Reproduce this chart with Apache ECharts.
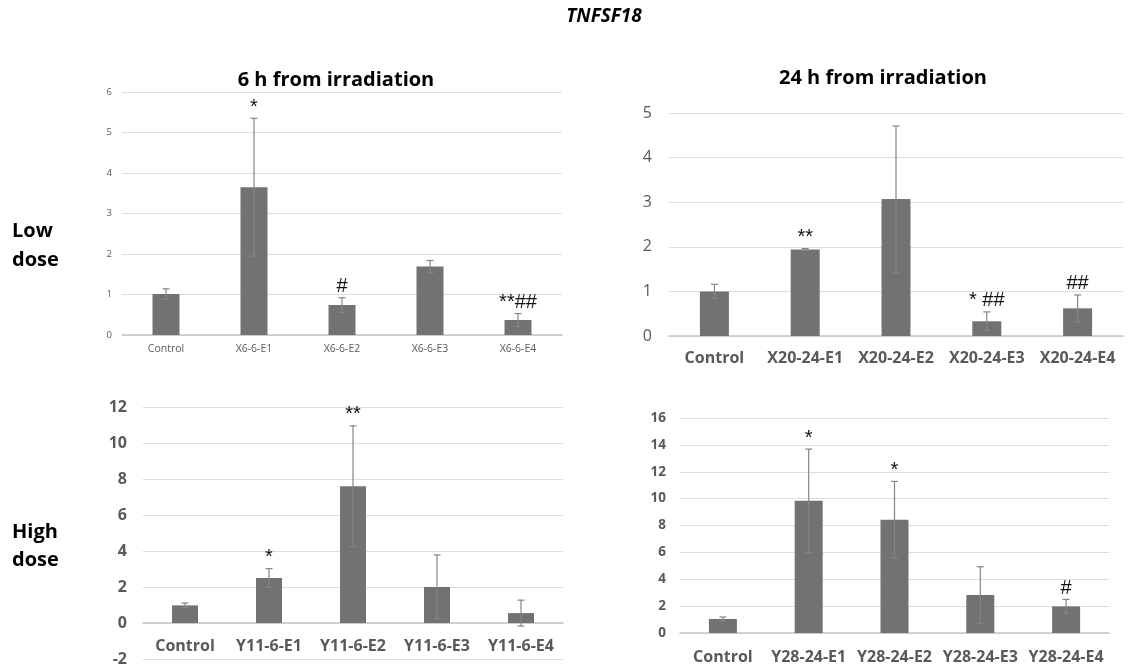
<!DOCTYPE html>
<html>
<head>
<meta charset="utf-8">
<script src="https://cdn.jsdelivr.net/npm/echarts@6/dist/echarts.min.js"></script>
<style>
html,body{margin:0;padding:0;background:#fff;}
#chart{width:1132px;height:668px;}
</style>
</head>
<body>
<div id="chart"></div>
<script>
// ---- Data ----
const cats1 = ['Control', 'X6-6-E1', 'X6-6-E2', 'X6-6-E3', 'X6-6-E4'];
const vals1 = [1.01, 3.65, 0.74, 1.69, 0.37];
const sd1   = [0.13, 1.70, 0.18, 0.15, 0.16];
const ann1  = ['', '*', '#', '', '**##'];

const cats2 = ['Control', 'X20-24-E1', 'X20-24-E2', 'X20-24-E3', 'X20-24-E4'];
const vals2 = [1.00, 1.94, 3.07, 0.33, 0.62];
const sd2   = [0.16, 0.02, 1.64, 0.21, 0.30];
const ann2  = ['', '**', '', '* ##', '##'];

const cats3 = ['Control', 'Y11-6-E1', 'Y11-6-E2', 'Y11-6-E3', 'Y11-6-E4'];
const vals3 = [0.98, 2.50, 7.60, 2.00, 0.55];
const sd3   = [0.13, 0.52, 3.35, 1.78, 0.72];
const ann3  = ['', '*', '**', '', ''];

const cats4 = ['Control', 'Y28-24-E1', 'Y28-24-E2', 'Y28-24-E3', 'Y28-24-E4'];
const vals4 = [1.04, 9.84, 8.43, 2.83, 1.98];
const sd4   = [0.15, 3.85, 2.85, 2.10, 0.52];
const ann4  = ['', '*', '*', '', '#'];

const ticks1 = {min: 0, max: 6, interval: 1};
const ticks2 = {min: 0, max: 5, interval: 1};
const ticks3 = {min: -2, max: 12, interval: 2};
const ticks4 = {min: 0, max: 16, interval: 2};

const mainTitle = 'TNFSF18';
const colTitles = ['6 h from irradiation', '24 h from irradiation'];
const rowTitles = ['Low\ndose', 'High\ndose'];

// ---- Styling ----
const FONT = '"Open Sans", "DejaVu Sans", sans-serif';
const BAR = '#727272';
const ERR = '#858585';
const GRIDC = '#dcdcdc';
const LBL = '#595959';

const panels = [
  {cats: cats1, vals: vals1, sd: sd1, ann: ann1, ticks: ticks1,
   grid: {left: 122, top: 92, width: 440, height: 243}, barWidth: 27,
   yFont: {fontSize: 9.5, fontWeight: 'normal'}, yMargin: 10,
   xFont: {fontSize: 10.5, fontWeight: 'normal'}, xMargin: 9, annSize: 20},
  {cats: cats2, vals: vals2, sd: sd2, ann: ann2, ticks: ticks2,
   grid: {left: 669, top: 113, width: 454, height: 223}, barWidth: 29,
   yFont: {fontSize: 16, fontWeight: 'normal'}, yMargin: 17,
   xFont: {fontSize: 16, fontWeight: 'bold'}, xMargin: 14, annSize: 20},
  {cats: cats3, vals: vals3, sd: sd3, ann: ann3, ticks: ticks3,
   grid: {left: 143, top: 407, width: 420, height: 252}, barWidth: 26,
   yFont: {fontSize: 16, fontWeight: 'bold'}, yMargin: 16,
   xFont: {fontSize: 16, fontWeight: 'bold'}, xMargin: 15, annSize: 20},
  {cats: cats4, vals: vals4, sd: sd4, ann: ann4, ticks: ticks4,
   grid: {left: 680, top: 418, width: 429, height: 215}, barWidth: 28,
   yFont: {fontSize: 13.5, fontWeight: 'bold'}, yMargin: 14,
   xFont: {fontSize: 16, fontWeight: 'bold'}, xMargin: 16, annSize: 20}
];

const grids = [], xAxes = [], yAxes = [], series = [];
panels.forEach((p, k) => {
  grids.push(Object.assign({containLabel: false, outerBoundsMode: 'none'}, p.grid));
  // place the category axis on the zero line (shift up from the bottom when min < 0)
  const zeroOffset = p.ticks.min < 0
    ? -p.grid.height * (-p.ticks.min) / (p.ticks.max - p.ticks.min) : 0;
  xAxes.push({
    type: 'category', gridIndex: k, data: p.cats, position: 'bottom', offset: zeroOffset,
    axisLine: {show: true, onZero: false, lineStyle: {color: '#c6c6c6', width: 1.5}},
    axisTick: {show: false},
    axisLabel: Object.assign({color: LBL, fontFamily: FONT, margin: p.xMargin, interval: 0}, p.xFont),
    splitLine: {show: false}
  });
  yAxes.push({
    type: 'value', gridIndex: k,
    min: p.ticks.min, max: p.ticks.max, interval: p.ticks.interval,
    axisLine: {show: false}, axisTick: {show: false},
    axisLabel: Object.assign({color: LBL, fontFamily: FONT, margin: p.yMargin}, p.yFont),
    splitLine: {show: true, lineStyle: {color: GRIDC, width: 1}}
  });
  series.push({
    type: 'bar', xAxisIndex: k, yAxisIndex: k, data: p.vals,
    barWidth: p.barWidth, itemStyle: {color: BAR}, z: 2, silent: true
  });
  const errData = p.vals.map((v, i) => [i, v, p.sd[i]]);
  series.push({
    type: 'custom', xAxisIndex: k, yAxisIndex: k, data: errData, z: 5, silent: true,
    encode: {x: 0, y: 1},
    renderItem: function (params, api) {
      const i = api.value(0), v = api.value(1), s = api.value(2);
      const top = api.coord([i, v + s]);
      const bot = api.coord([i, v - s]);
      const x = top[0], c = 3.5;
      const st = {stroke: ERR, lineWidth: 1.2};
      const children = [
        {type: 'line', shape: {x1: x, y1: top[1], x2: x, y2: bot[1]}, style: st},
        {type: 'line', shape: {x1: x - c, y1: top[1], x2: x + c, y2: top[1]}, style: st},
        {type: 'line', shape: {x1: x - c, y1: bot[1], x2: x + c, y2: bot[1]}, style: st}
      ];
      const label = p.ann[params.dataIndex];
      if (label) {
        children.push({
          type: 'text', z2: 10,
          style: {x: x, y: top[1] - 1, text: label, fill: '#111',
            font: p.annSize + 'px "Liberation Sans", Arial, sans-serif',
            textAlign: 'center', textVerticalAlign: 'bottom'}
        });
      }
      return {type: 'group', children: children};
    }
  });
});

const txt = (x, y, text, size, extra) => ({
  type: 'text', x: x, y: y,
  style: Object.assign({text: text, fill: '#000', textAlign: 'center', textVerticalAlign: 'middle',
    font: 'bold ' + size + 'px ' + FONT}, extra || {})
});

const graphic = [
  txt(604, 17, mainTitle, 19, {font: 'italic bold 19px ' + FONT}),
  txt(336, 80, colTitles[0], 20),
  txt(883, 78, colTitles[1], 20),
  txt(12, 246, rowTitles[0], 20, {textAlign: 'left', lineHeight: 29}),
  txt(12, 546, rowTitles[1], 20, {textAlign: 'left', lineHeight: 28})
];

const chart = echarts.init(document.getElementById('chart'), null, {renderer: 'canvas'});
chart.setOption({
  animation: false,
  backgroundColor: '#fff',
  grid: grids, xAxis: xAxes, yAxis: yAxes, series: series, graphic: graphic
});
</script>
</body>
</html>
